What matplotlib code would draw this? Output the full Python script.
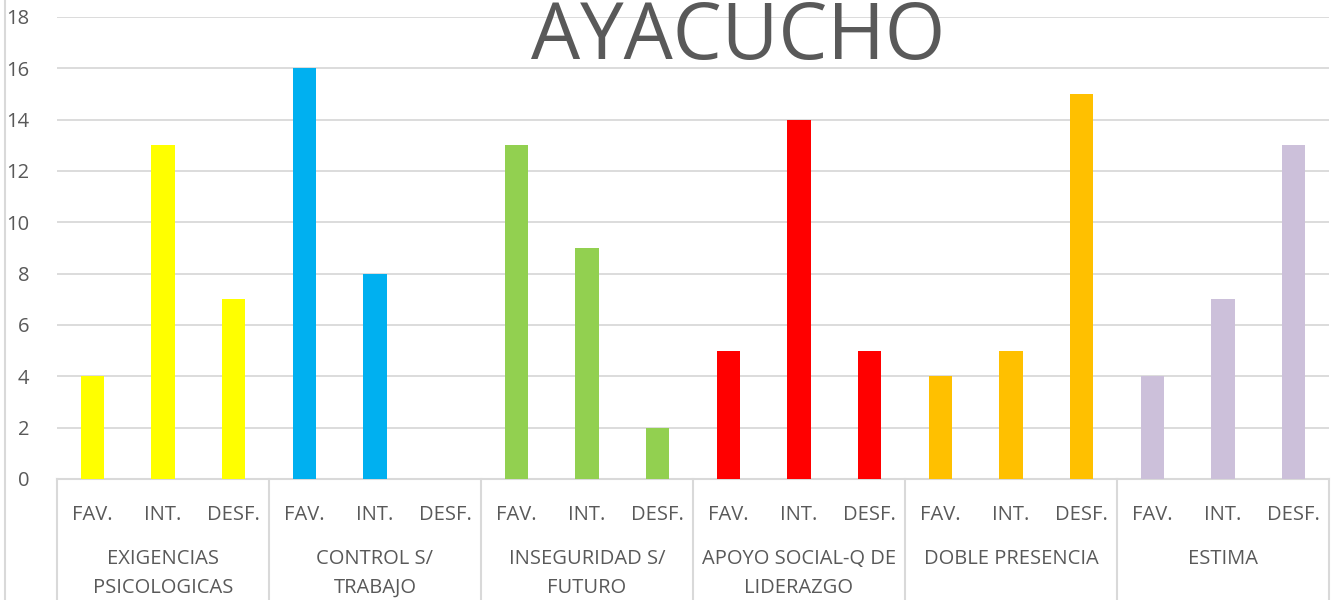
import matplotlib.pyplot as plt
import numpy as np

# data
groups = ['EXIGENCIAS\nPSICOLOGICAS', 'CONTROL S/\nTRABAJO', 'INSEGURIDAD S/\nFUTURO',
          'APOYO SOCIAL-Q DE\nLIDERAZGO', 'DOBLE PRESENCIA', 'ESTIMA']
levels = ['FAV.', 'INT.', 'DESF.']
values = [4, 13, 7,
          16, 8, 0,
          13, 9, 2,
          5, 14, 5,
          4, 5, 15,
          4, 7, 13]
group_colors = ['#FFFF00', '#00B0F0', '#92D050', '#FF0000', '#FFC000', '#CCC0DA']

plt.rcParams['font.family'] = ['Open Sans', 'DejaVu Sans']
txt = '#595959'
grid_c = '#D9D9D9'

fig = plt.figure(figsize=(13.35, 6), dpi=100)
ax = fig.add_axes([57/1335, 1 - 479/600, (1329 - 57)/1335, 462/600])

x = np.arange(len(values))
colors = [c for c in group_colors for _ in levels]
ax.bar(x, values, width=0.33, color=colors, zorder=3)

ax.set_xlim(-0.5, len(values) - 0.5)
ax.set_ylim(0, 18)
ax.set_yticks(range(0, 19, 2))
ax.yaxis.grid(True, color=grid_c, linewidth=1.3, zorder=0)
for s in ['top', 'right', 'left']:
    ax.spines[s].set_visible(False)
ax.spines['bottom'].set_color(grid_c)
ax.spines['bottom'].set_linewidth(1.5)
ax.tick_params(axis='y', length=0, pad=20, labelsize=14.5, labelcolor=txt)
ax.set_xticks(x)
ax.set_xticklabels(levels * len(groups))
ax.tick_params(axis='x', length=0, pad=19, labelsize=14.5, labelcolor=txt)

# group labels and separators
trans = ax.get_xaxis_transform()
for i, g in enumerate(groups):
    ax.text(3 * i + 1, -0.151, g, transform=trans, ha='center', va='top',
            fontsize=14.5, color=txt, linespacing=1.6)
for b in np.arange(-0.5, len(values), 3):
    ax.plot([b, b], [0, -0.3], transform=trans, color=grid_c, linewidth=1.5,
            clip_on=False)

# left chart border
fig.add_artist(plt.Line2D([5/1335, 5/1335], [0, 1], color=grid_c, linewidth=1.5))

fig.text(738/1335, 1 - 59/600, 'AYACUCHO', ha='center', va='baseline',
         fontsize=56, color=txt)

fig.savefig('out.png', dpi=100)
